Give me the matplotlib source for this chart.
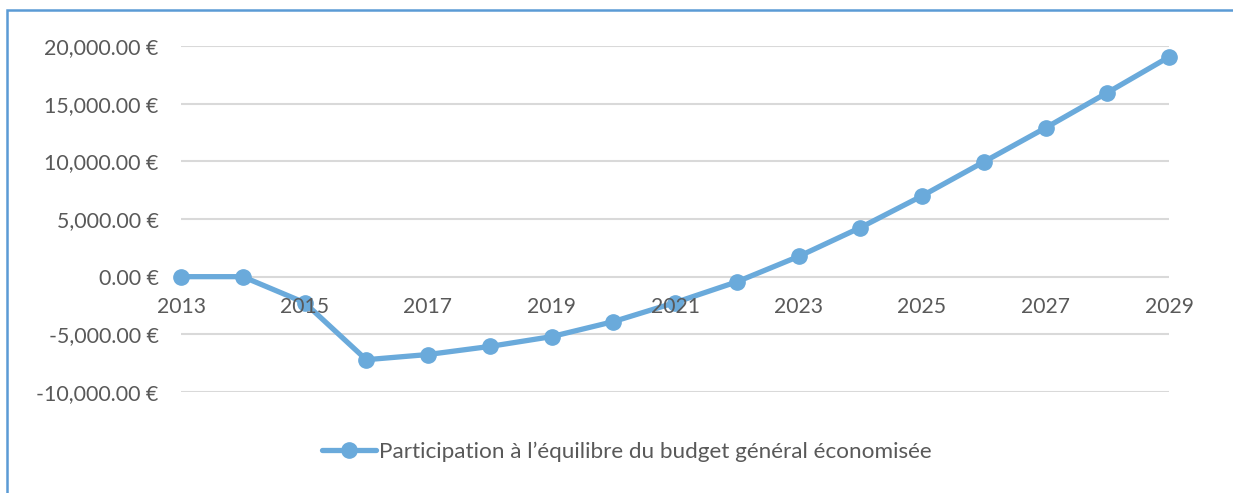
import matplotlib
matplotlib.use("Agg")
import matplotlib.pyplot as plt
from matplotlib.ticker import FuncFormatter
from matplotlib.transforms import offset_copy
from matplotlib.patches import Rectangle

years = list(range(2013, 2030))
participation = [0, 0, -2250, -7200, -6750, -6050, -5200, -3900, -2250,
                 -450, 1750, 4250, 7000, 9950, 12900, 15950, 19050]
year_labels = [str(y) for y in years if y % 2 == 1]
series_label = "Participation à l\u2019équilibre du budget général économisée"

blue = "#6aaadb"
grey = "#595959"

plt.rcParams['font.family'] = ['Lato', 'DejaVu Sans']

fig = plt.figure(figsize=(12.33, 4.93), dpi=100)
ax = fig.add_axes([181 / 1233, 1 - 392 / 493, (1169 - 181) / 1233, (392 - 46) / 493])

ax.plot(years, participation, color=blue, lw=3.8, marker='o', ms=11,
        label=series_label, clip_on=False, zorder=3, solid_capstyle='round')

ax.set_xlim(2013, 2029)
ax.set_ylim(-10000, 20000)
ax.set_yticks(range(-10000, 20001, 5000))
ax.yaxis.set_major_formatter(FuncFormatter(lambda v, p: f"{v:,.2f} €"))
ax.tick_params(axis='y', length=0, pad=16, labelsize=15.4, labelcolor=grey)
ax.set_xticks([])
ax.grid(axis='y', color='#d9d9d9', lw=1.5, zorder=0)
for s in ax.spines.values():
    s.set_visible(False)

# year labels sit just under the zero line
trans = offset_copy(ax.transData, fig=fig, x=0, y=-30, units='dots')
for lab in year_labels:
    ax.text(int(lab), 0, lab, transform=trans, ha='center', va='center',
            fontsize=15.2, color=grey, zorder=4)

fig.legend(loc='center', bbox_to_anchor=(627 / 1233, 1 - 452 / 493),
           frameon=False, fontsize=16.2, handlelength=2.4, handletextpad=0.15,
           labelcolor=grey)

# outer frame (top and left edges only visible)
fig.patches.append(Rectangle((7 / 1233, -0.1), 1.2, 1 - 10 / 493 + 0.1,
                             transform=fig.transFigure, fill=False,
                             edgecolor='#5b9bd5', lw=1.8))

fig.savefig("out.png", dpi=100)
